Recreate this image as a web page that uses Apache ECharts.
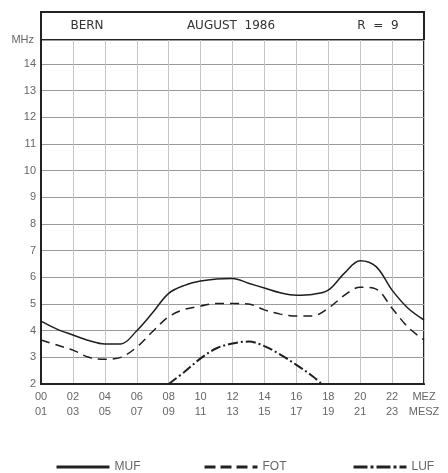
<!DOCTYPE html>
<html>
<head>
<meta charset="utf-8">
<script src="https://cdn.jsdelivr.net/npm/echarts@6/dist/echarts.min.js"></script>
<style>
  html, body { margin: 0; padding: 0; background: #fff; }
  #chart { width: 448px; height: 473px; }
</style>
</head>
<body>
<div id="chart"></div>
<script>
// ---- data ----
var hours = [0,1,2,3,4,5,6,7,8,9,10,11,12,13,14,15,16,17,18,19,20,21,22,23,24];
var muf = [4.36,4.06,3.84,3.63,3.5,3.5,4.0,4.68,5.4,5.7,5.86,5.94,5.96,5.78,5.6,5.42,5.33,5.36,5.52,6.15,6.62,6.4,5.52,4.84,4.4];
var fot = [3.65,3.46,3.27,3.0,2.93,3.0,3.38,3.97,4.52,4.8,4.92,5.02,5.02,5.0,4.78,4.62,4.55,4.55,4.84,5.32,5.63,5.56,4.84,4.13,3.65];
var lufHours = [8,9,10,11,12,13,14,15,16,17,17.6];
var luf = [2.0,2.46,2.96,3.34,3.52,3.59,3.42,3.1,2.72,2.3,2.0];
var xTop = ['00','02','04','06','08','10','12','14','16','18','20','22','MEZ'];
var xBottom = ['01','03','05','07','09','11','13','15','17','19','21','23','MESZ'];
var seriesNames = ['MUF','FOT','LUF'];

function pairs(xs, ys){
    var out = [];
    for (var i = 0; i < xs.length; i++) out.push([xs[i], ys[i]]);
    return out;
}

var chart = echarts.init(document.getElementById('chart'));
var labelColor = '#666';
var lineColor = '#1e1e1e';

function legendFor(name, left, dash){
    return {
        data: [name], left: left, top: 456, itemWidth: 53, itemHeight: 12, itemGap: 6,
        itemStyle: { opacity: 0 },
        lineStyle: { width: 3, type: dash, color: '#222' },
        textStyle: { color: labelColor, fontSize: 12 }
    };
}

var option = {
    animation: false,
    textStyle: { fontFamily: 'Liberation Sans' },
    grid: {
        left: 41, right: 24, top: 40, bottom: 89,
        show: true, borderColor: '#222', borderWidth: 2
    },
    xAxis: {
        type: 'value', min: 0, max: 24, interval: 2,
        axisLine: { show: true, lineStyle: { color: '#222', width: 2 } },
        axisTick: { show: false },
        splitLine: { show: true, lineStyle: { color: '#c4c4c4', width: 1 } },
        axisLabel: {
            color: labelColor, fontSize: 11, lineHeight: 15, margin: 5,
            formatter: function(v){
                var i = Math.round(v / 2);
                return xTop[i] + '\n' + xBottom[i];
            }
        }
    },
    yAxis: {
        type: 'value', min: 2, max: 14.9, interval: 1,
        axisLine: { show: true, lineStyle: { color: '#222', width: 2 } },
        axisTick: { show: false },
        splitLine: { show: true, lineStyle: { color: '#9a9a9a', width: 1 } },
        axisLabel: {
            color: labelColor, fontSize: 11, margin: 5,
            formatter: function(v){ return Number.isInteger(v) ? v : ''; }
        }
    },
    legend: [
        legendFor('MUF', 50, 'solid'),
        legendFor('FOT', 198, [11, 5]),
        legendFor('LUF', 347, [14, 3, 3, 3])
    ],
    graphic: [
        { type: 'rect', shape: { x: 41, y: 12, width: 383, height: 28 },
          style: { fill: '#fff', stroke: '#222', lineWidth: 2 } },
        { type: 'text', x: 87, y: 26,
          style: { text: 'BERN', fill: '#333', font: '12px "DejaVu Sans"', align: 'center', verticalAlign: 'middle' } },
        { type: 'text', x: 231, y: 26,
          style: { text: 'AUGUST  1986', fill: '#333', font: '12px "DejaVu Sans"', align: 'center', verticalAlign: 'middle' } },
        { type: 'text', x: 378, y: 26,
          style: { text: 'R  =  9', fill: '#333', font: '12px "DejaVu Sans"', align: 'center', verticalAlign: 'middle' } },
        { type: 'text', x: 34, y: 40,
          style: { text: 'MHz', fill: labelColor, font: '11px "Liberation Sans"', align: 'right', verticalAlign: 'middle' } }
    ],
    series: [
        {
            name: seriesNames[0], type: 'line', smooth: 0.35, symbol: 'none',
            data: pairs(hours, muf),
            lineStyle: { color: lineColor, width: 1.5 },
            itemStyle: { color: lineColor }
        },
        {
            name: seriesNames[1], type: 'line', smooth: 0.35, symbol: 'none',
            data: pairs(hours, fot),
            lineStyle: { color: lineColor, width: 1.5, type: [9, 6] },
            itemStyle: { color: lineColor }
        },
        {
            name: seriesNames[2], type: 'line', smooth: 0.35, symbol: 'none',
            data: pairs(lufHours, luf),
            lineStyle: { color: lineColor, width: 2, type: [10, 3, 2, 3] },
            itemStyle: { color: lineColor }
        }
    ]
};
chart.setOption(option);
</script>
</body>
</html>
